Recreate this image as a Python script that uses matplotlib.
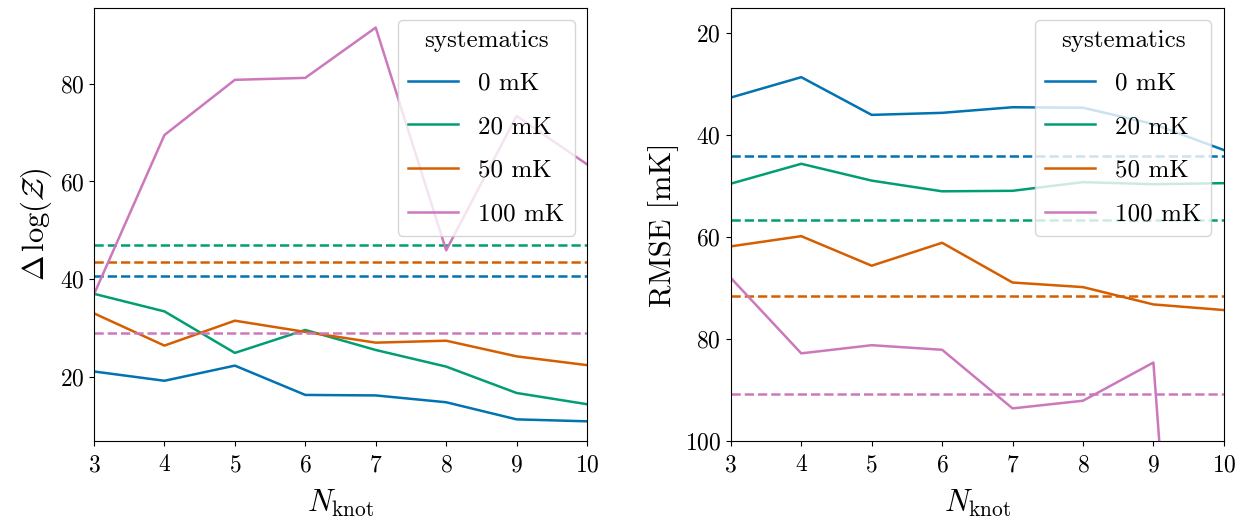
#!/usr/bin/env python3

import matplotlib
matplotlib.use('Agg')
import matplotlib.pyplot as plt

# number of knots on the x axis
n_knot = [3, 4, 5, 6, 7, 8, 9, 10]
labels = ['0 mK', '20 mK', '50 mK', '100 mK']
colors = ['#0173b2', '#029e73', '#d55e00', '#cc78bc']

# evidence difference per systematic level
dlogz_0 = [21.1, 19.2, 22.3, 16.3, 16.2, 14.8, 11.3, 10.9]
dlogz_20 = [37.0, 33.4, 24.9, 29.6, 25.5, 22.1, 16.7, 14.4]
dlogz_50 = [33.0, 26.4, 31.5, 29.2, 27.0, 27.4, 24.2, 22.4]
dlogz_100 = [36.9, 69.5, 80.8, 81.2, 91.5, 45.9, 73.4, 63.5]
dlogz_ref = [40.6, 46.9, 43.6, 29.0]

# rmse per systematic level
rmse_0 = [32.6, 28.6, 36.0, 35.6, 34.5, 34.6, 37.8, 42.9]
rmse_20 = [49.5, 45.6, 48.9, 51.0, 50.9, 49.2, 49.6, 49.4]
rmse_50 = [61.8, 59.8, 65.6, 61.1, 68.9, 69.8, 73.2, 74.3]
rmse_100 = [68.0, 82.8, 81.2, 82.1, 93.6, 92.1, 84.6, 270.0]
rmse_ref = [44.1, 56.6, 71.5, 90.8]


def main():
    plt.rcParams['font.family'] = 'serif'
    plt.rcParams['font.serif'] = ['cmr10']
    plt.rcParams['mathtext.fontset'] = 'cm'
    plt.rcParams['axes.formatter.use_mathtext'] = True
    plt.rcParams['xtick.labelsize'] = 17
    plt.rcParams['ytick.labelsize'] = 17
    plt.rcParams['xtick.major.pad'] = 6
    plt.rcParams['lines.linewidth'] = 1.8

    fig = plt.figure(figsize=(12.45, 5.25), dpi=100)
    ax1 = fig.add_axes([0.0755, 0.16, 0.396, 0.825])
    ax2 = fig.add_axes([0.587, 0.16, 0.396, 0.825])

    dlogz = [dlogz_0, dlogz_20, dlogz_50, dlogz_100]
    rmse = [rmse_0, rmse_20, rmse_50, rmse_100]

    for i in range(len(labels)):
        ax1.plot(n_knot, dlogz[i], color=colors[i], label=labels[i])
        ax1.axhline(dlogz_ref[i], color=colors[i], ls='--')
        ax2.plot(n_knot, rmse[i], color=colors[i], label=labels[i])
        ax2.axhline(rmse_ref[i], color=colors[i], ls='--')

    ax1.set_xlim(3, 10)
    ax1.set_xticks(n_knot)
    ax1.set_yticks([20, 40, 60, 80])
    ax1.set_xlabel(r'$N_{\rm knot}$', fontsize=22, labelpad=8)
    ax1.set_ylabel(r'$\Delta\,\log(\mathcal{Z})$', fontsize=22)

    ax2.set_xlim(3, 10)
    ax2.set_xticks(n_knot)
    ax2.set_ylim(100, 15)
    ax2.set_yticks([20, 40, 60, 80, 100])
    ax2.set_xlabel(r'$N_{\rm knot}$', fontsize=22, labelpad=8)
    ax2.set_ylabel('RMSE [mK]', fontsize=22)

    for ax in (ax1, ax2):
        leg = ax.legend(title='systematics', loc='upper right', fontsize=18,
                        title_fontsize=18, labelspacing=0.85)
        leg._legend_box.sep = 14

    plt.savefig('out.png')


if __name__ == "__main__":
    main()
